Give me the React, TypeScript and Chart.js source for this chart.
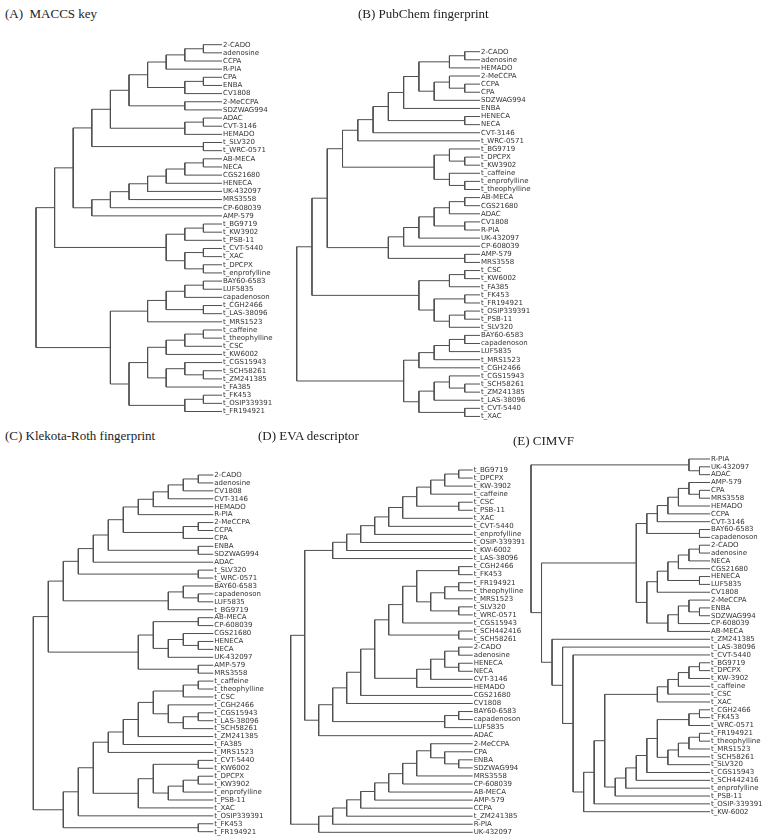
import React, { useEffect, useRef } from 'react';
import { Chart, registerables } from 'chart.js';

Chart.register(...registerables);

type Merge = [number, number, number];

// ---------- data ----------
const titles = ['(A)  MACCS key', '(B) PubChem fingerprint', '(C) Klekota-Roth fingerprint', '(D) EVA descriptor', '(E) CIMVF'];

const leavesA = ['2-CADO','adenosine','CCPA','R-PIA','CPA','ENBA','CV1808','2-MeCCPA','SDZWAG994','ADAC','CVT-3146','HEMADO','t_SLV320','t_WRC-0571','AB-MECA','NECA','CGS21680','HENECA','UK-432097','MRS3558','CP-608039','AMP-579','t_BG9719','t_KW3902','t_PSB-11','t_CVT-5440','t_XAC','t_DPCPX','t_enprofylline','BAY60-6583','LUF5835','capadenoson','t_CGH2466','t_LAS-38096','t_MRS1523','t_caffeine','t_theophylline','t_CSC','t_KW6002','t_CGS15943','t_SCH58261','t_ZM241385','t_FA385','t_FK453','t_OSIP339391','t_FR194921'];
// [leaf in cluster 1, leaf in cluster 2, merge level]
const mergesA: Merge[] = [
  [0,1,1],[0,2,2],[0,3,3],[4,5,1],[4,6,2],[0,4,4],[7,8,2],[0,7,5],[9,10,1],[9,11,2],[0,9,6],[12,13,1],[0,12,7],
  [14,15,1],[14,16,2],[14,17,3],[14,18,4],[14,19,5],[14,20,6],[14,21,7],[0,14,8],
  [22,23,1],[22,24,2],[25,26,1],[27,28,1],[25,27,2],[22,25,3],[0,22,9],
  [29,30,1],[29,31,2],[32,33,1],[29,32,3],[29,34,4],
  [35,36,1],[35,37,2],[35,38,3],[40,41,1],[39,40,2],[39,42,3],[35,39,4],[43,44,1],[43,45,2],[35,43,5],[29,35,6],
  [0,29,10],
];

const leavesB = ['2-CADO','adenosine','HEMADO','2-MeCCPA','CCPA','CPA','SDZWAG994','ENBA','HENECA','NECA','CVT-3146','t_WRC-0571','t_BG9719','t_DPCPX','t_KW3902','t_caffeine','t_enprofylline','t_theophylline','AB-MECA','CGS21680','ADAC','CV1808','R-PIA','UK-432097','CP-608039','AMP-579','MRS3558','t_CSC','t_KW6002','t_FA385','t_FK453','t_FR194921','t_OSIP339391','t_PSB-11','t_SLV320','BAY60-6583','capadenoson','LUF5835','t_MRS1523','t_CGH2466','t_CGS15943','t_SCH58261','t_ZM241385','t_LAS-38096','t_CVT-5440','t_XAC'];
const mergesB: Merge[] = [
  [0,1,1],[0,2,2],[4,5,1],[3,4,2],[3,6,3],[0,3,4],[0,7,5],[8,9,1],[0,8,6],[0,10,7],[0,11,8],
  [13,14,1],[12,13,2],[16,17,1],[15,16,2],[12,15,3],[0,12,9],
  [18,19,1],[18,20,2],[21,22,1],[18,21,3],[18,23,4],[18,24,5],[25,26,1],[18,25,6],[0,18,10],
  [27,28,1],[27,29,2],[30,31,1],[32,33,1],[32,34,2],[30,32,3],[27,30,4],[0,27,11],
  [35,36,1],[35,37,2],[35,38,3],[35,39,4],[41,42,1],[40,41,2],[40,43,3],[44,45,1],[40,44,4],[35,40,5],[0,35,12],
];

const leavesC = ['2-CADO','adenosine','CV1808','CVT-3146','HEMADO','R-PIA','2-MeCCPA','CCPA','CPA','ENBA','SDZWAG994','ADAC','t_SLV320','t_WRC-0571','BAY60-6583','capadenoson','LUF5835','t_BG9719','AB-MECA','CP-608039','CGS21680','HENECA','NECA','UK-432097','AMP-579','MRS3558','t_caffeine','t_theophylline','t_CSC','t_CGH2466','t_CGS15943','t_LAS-38096','t_SCH58261','t_ZM241385','t_FA385','t_MRS1523','t_CVT-5440','t_KW6002','t_DPCPX','t_KW3902','t_enprofylline','t_PSB-11','t_XAC','t_OSIP339391','t_FK453','t_FR194921'];
const mergesC: Merge[] = [
  [0,1,1],[0,2,2],[0,3,3],[0,4,4],[0,5,5],[6,7,1],[6,8,2],[0,6,6],[9,10,1],[0,9,7],[0,11,8],[12,13,1],[0,12,9],
  [15,16,1],[14,15,2],[14,17,3],[0,14,10],
  [18,19,1],[21,22,1],[20,21,2],[20,23,3],[18,20,4],[24,25,1],[18,24,5],[0,18,11],
  [26,27,1],[26,28,2],[30,31,1],[30,32,2],[29,30,3],[26,29,4],[26,33,5],[26,34,6],[26,35,7],
  [36,37,1],[38,39,1],[38,40,2],[38,41,3],[36,38,4],[36,42,5],[26,36,8],[26,43,9],[44,45,1],[26,44,10],[0,26,12],
];

const leavesD = ['t_BG9719','t_DPCPX','t_KW-3902','t_caffeine','t_CSC','t_PSB-11','t_XAC','t_CVT-5440','t_enprofylline','t_OSIP-339391','t_KW-6002','t_LAS-38096','t_CGH2466','t_FK453','t_FR194921','t_theophylline','t_MRS1523','t_SLV320','t_WRC-0571','t_CGS15943','t_SCH442416','t_SCH58261','2-CADO','adenosine','HENECA','NECA','CVT-3146','HEMADO','CGS21680','CV1808','BAY60-6583','capadenoson','LUF5835','ADAC','2-MeCCPA','CPA','ENBA','SDZWAG994','MRS3558','CP-608039','AB-MECA','AMP-579','CCPA','t_ZM241385','R-PIA','UK-432097'];
const mergesD: Merge[] = [
  [0,1,1],[0,2,2],[0,3,3],[4,5,1],[0,4,4],[0,6,5],[0,7,6],[0,8,7],[0,9,8],[0,10,9],[0,11,10],
  [12,13,1],[14,15,1],[14,16,2],[17,18,1],[14,17,3],[12,14,4],[12,19,5],[20,21,1],[12,20,6],
  [22,23,1],[24,25,1],[22,24,2],[22,26,3],[22,27,4],[12,22,7],[12,28,8],[12,29,9],[30,31,1],[30,32,2],[12,30,10],[12,33,11],[0,12,12],
  [36,37,1],[35,36,2],[34,35,3],[34,38,4],[34,39,5],[34,40,6],[34,41,7],[34,42,8],[34,43,9],[34,44,10],[34,45,11],[0,34,13],
];

const leavesE = ['R-PIA','UK-432097','ADAC','AMP-579','CPA','MRS3558','HEMADO','CCPA','CVT-3146','BAY60-6583','capadenoson','2-CADO','adenosine','NECA','CGS21680','HENECA','LUF5835','CV1808','2-MeCCPA','ENBA','SDZWAG994','CP-608039','AB-MECA','t_ZM241385','t_LAS-38096','t_CVT-5440','t_BG9719','t_DPCPX','t_KW-3902','t_caffeine','t_CSC','t_XAC','t_CGH2466','t_FK453','t_WRC-0571','t_FR194921','t_theophylline','t_MRS1523','t_SCH58261','t_SLV320','t_CGS15943','t_SCH442416','t_enprofylline','t_PSB-11','t_OSIP-339391','t_KW-6002'];
const mergesE: Merge[] = [
  [1,2,1],[0,1,2],
  [4,5,1],[3,4,2],[3,6,3],[3,7,4],[3,8,5],[9,10,1],[3,9,6],
  [11,12,1],[11,13,2],[11,14,3],[15,16,1],[11,15,4],[11,17,5],[19,20,1],[18,19,2],[18,21,3],[18,22,4],[11,18,6],[3,11,7],
  [26,27,1],[26,28,2],[26,29,3],[26,30,4],[26,31,5],
  [32,33,1],[32,34,2],[35,36,1],[35,37,2],[35,38,3],[35,39,4],[32,35,5],[32,40,6],[32,41,7],[32,42,8],[32,43,9],[26,32,10],[26,44,11],[26,45,12],[25,26,13],[24,25,14],[23,24,15],[3,23,16],[0,3,17],
];

// ---------- layout (page pixels) ----------
type Frame = { left: number; top: number; width: number; height: number; rootX: number; leafX: number; firstY: number; lastY: number };

const frameA: Frame = { left: 0, top: 25, width: 300, height: 400, rootX: 36, leafX: 222, firstY: 44.7, lastY: 411.5 };
const frameB: Frame = { left: 285, top: 25, width: 478, height: 400, rootX: 296.7, leafX: 480, firstY: 51.7, lastY: 416.7 };
const frameC: Frame = { left: 0, top: 450, width: 285, height: 395, rootX: 33.3, leafX: 213.3, firstY: 475, lastY: 831.7 };
const frameD: Frame = { left: 270, top: 450, width: 260, height: 395, rootX: 290.7, leafX: 472.7, firstY: 470, lastY: 832.3 };
const frameE: Frame = { left: 515, top: 445, width: 248, height: 400, rootX: 531, leafX: 710, firstY: 459, lastY: 811.7 };

const titlePos = [
  { left: 5, top: 6 },
  { left: 358, top: 6 },
  { left: 5, top: 428 },
  { left: 258, top: 428 },
  { left: 513, top: 433 },
];

const LINE = '#4f4f4f';
const LABEL = '#333333';

function treeSegments(n: number, merges: Merge[]) {
  const h: number[] = [];
  const y: number[] = [];
  const parent: number[] = [];
  for (let i = 0; i < n; i++) { h.push(0); y.push(i); parent.push(i); }
  const find = (i: number) => { while (parent[i] !== i) i = parent[i]; return i; };
  const segs: { x: number; y: number }[][] = [];
  for (const [a, b, lvl] of merges) {
    const ra = find(a);
    const rb = find(b);
    const k = h.length;
    h.push(lvl);
    y.push((y[ra] + y[rb]) / 2);
    parent.push(k);
    parent[ra] = k;
    parent[rb] = k;
    segs.push([
      { x: h[ra], y: y[ra] },
      { x: lvl, y: y[ra] },
      { x: lvl, y: y[rb] },
      { x: h[rb], y: y[rb] },
    ]);
  }
  return segs;
}

function Dendrogram({ leaves, merges, frame }: { leaves: string[]; merges: Merge[]; frame: Frame }) {
  const ref = useRef<HTMLCanvasElement>(null);
  useEffect(() => {
    if (!ref.current) return;
    const n = leaves.length;
    const maxLevel = Math.max(...merges.map((m) => m[2]));
    const step = (frame.lastY - frame.firstY) / (n - 1);
    const padTop = frame.firstY - step / 2 - frame.top;
    const padBottom = frame.top + frame.height - (frame.lastY + step / 2);
    const axisWidth = frame.left + frame.width - frame.leafX;
    const chart = new Chart(ref.current, {
      type: 'scatter',
      data: {
        datasets: treeSegments(n, merges).map((pts) => ({
          data: pts,
          showLine: true,
          borderColor: LINE,
          borderWidth: 1,
          pointRadius: 0,
          pointHoverRadius: 0,
          tension: 0,
          clip: false as any,
        })),
      },
      options: {
        animation: false,
        responsive: false,
        events: [],
        layout: { padding: { left: frame.rootX - frame.left, top: padTop, bottom: padBottom, right: 0 } },
        plugins: { legend: { display: false }, tooltip: { enabled: false } },
        scales: {
          x: { type: 'linear', display: false, min: 0, max: maxLevel, reverse: true },
          y: {
            type: 'linear',
            position: 'right',
            min: -0.5,
            max: n - 0.5,
            reverse: true,
            grid: { display: false, drawTicks: false },
            border: { display: false },
            afterBuildTicks: (s: any) => { s.ticks = leaves.map((_, i) => ({ value: i })); },
            afterFit: (s: any) => { s.width = axisWidth; },
            ticks: {
              autoSkip: false,
              padding: 1,
              color: LABEL,
              font: { family: '"DejaVu Sans", Verdana, sans-serif', size: 7, lineHeight: 1 },
              callback: (v: any) => leaves[v as number] ?? '',
            },
          },
        },
      } as any,
    });
    return () => chart.destroy();
  }, []);
  return (
    <canvas
      ref={ref}
      width={frame.width}
      height={frame.height}
      style={{ position: 'absolute', left: frame.left, top: frame.top, width: frame.width, height: frame.height }}
    />
  );
}

export default function App() {
  return (
    <div style={{ position: 'absolute', left: 0, top: 0, width: 763, height: 839, overflow: 'hidden', background: '#ffffff' }}>
      <Dendrogram leaves={leavesA} merges={mergesA} frame={frameA} />
      <Dendrogram leaves={leavesB} merges={mergesB} frame={frameB} />
      <Dendrogram leaves={leavesC} merges={mergesC} frame={frameC} />
      <Dendrogram leaves={leavesD} merges={mergesD} frame={frameD} />
      <Dendrogram leaves={leavesE} merges={mergesE} frame={frameE} />
      {titles.map((t, i) => (
        <div
          key={t}
          style={{
            position: 'absolute',
            left: titlePos[i].left,
            top: titlePos[i].top,
            font: '13px "Liberation Serif", "Times New Roman", serif',
            color: '#222',
            whiteSpace: 'pre',
          }}
        >
          {t}
        </div>
      ))}
    </div>
  );
}
